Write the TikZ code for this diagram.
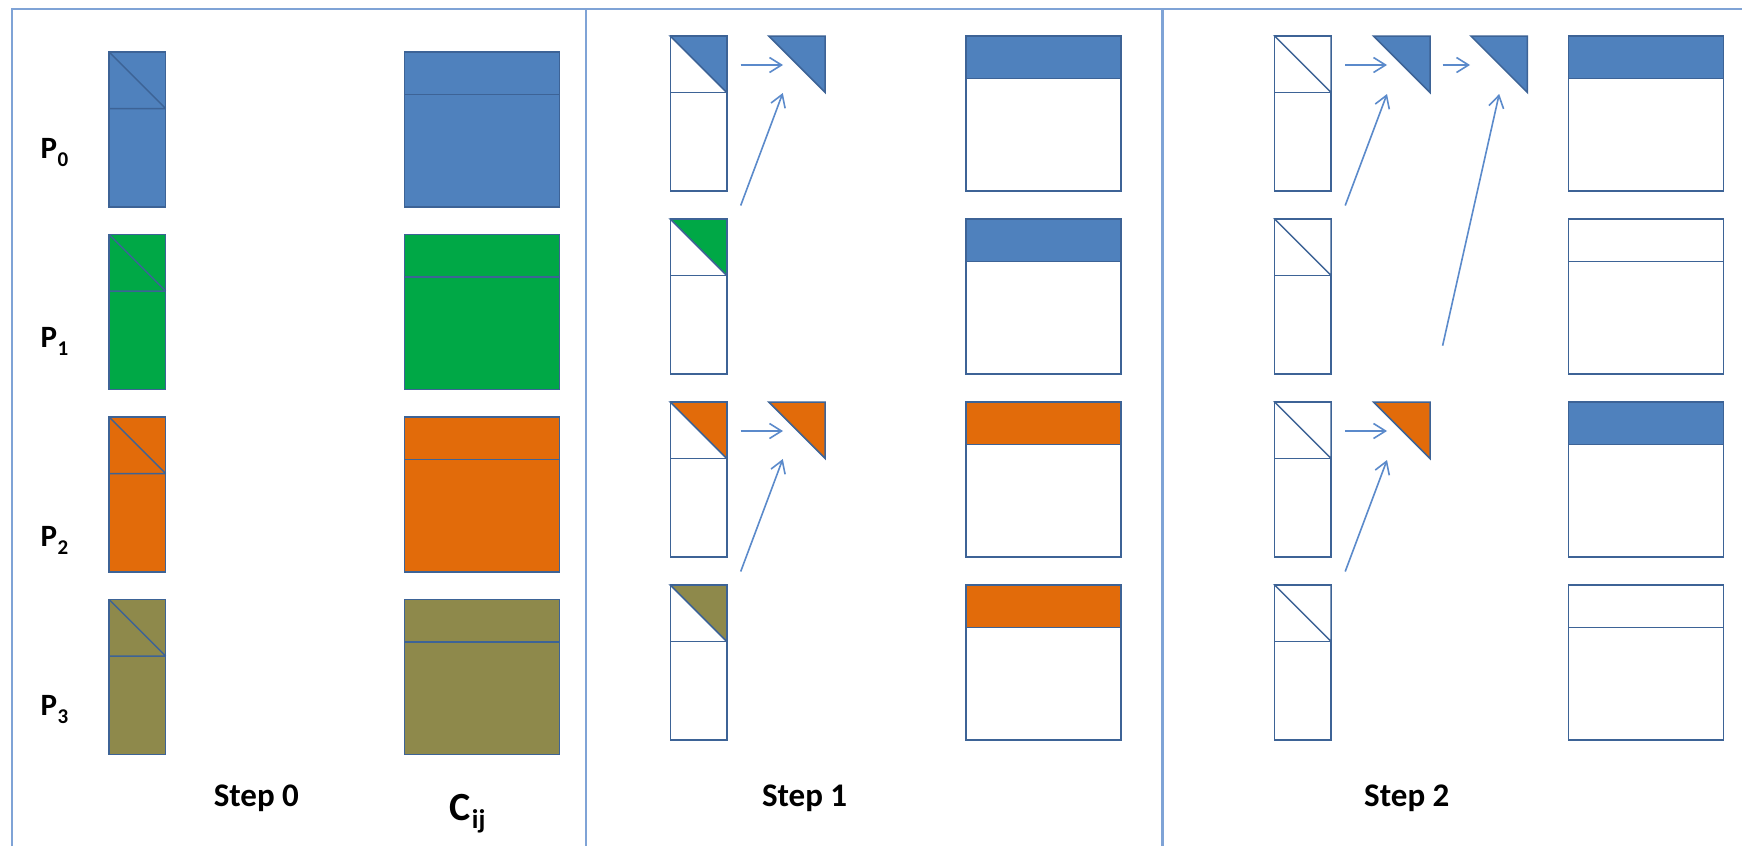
\documentclass[tikz,border=0pt]{standalone}
\usepackage{fontspec}
\setmainfont{Carlito}
\usetikzlibrary{arrows.meta}

\definecolor{accblue}{HTML}{4F81BD}
\definecolor{accgreen}{HTML}{00A846}
\definecolor{accorange}{HTML}{E26B0A}
\definecolor{accolive}{HTML}{8E894B}
\definecolor{edgeblue}{HTML}{3D6396}
\definecolor{rulecol}{HTML}{7FA3D6}
\definecolor{linkcol}{HTML}{5B8ACB}

% block geometry (1 unit = 1pt, y grows downwards)
\def\narrowW{56.5}
\def\blockH{155}
\def\wideW{155}
\def\bandH{42.5}

% local column with its diagonal block, fully coloured
\newcommand\fullcolumn[3]{%
  \begin{scope}[shift={(#1,#2)}]
    \filldraw[blk,fill=#3] (0,0) rectangle (\narrowW,\blockH);
    \draw[blk] (0,\narrowW) -- (\narrowW,\narrowW) (0,0) -- (\narrowW,\narrowW);
  \end{scope}}
% local column, only the upper triangle of the diagonal block coloured
\newcommand\trianglecolumn[3]{%
  \begin{scope}[shift={(#1,#2)}]
    \draw[blk] (0,0) rectangle (\narrowW,\blockH);
    \filldraw[blk,fill=#3] (0,0) -- (\narrowW,0) -- (\narrowW,\narrowW) -- cycle;
    \draw[blk] (0,\narrowW) -- (\narrowW,\narrowW);
  \end{scope}}
% received triangular block
\newcommand\recvtri[3]{%
  \filldraw[blk,fill=#3,shift={(#1,#2)}] (0,0) -- (\narrowW,0) -- (\narrowW,\narrowW) -- cycle;}
% result block C: top band colour #3, body colour #4
\newcommand\resultblock[4]{%
  \begin{scope}[shift={(#1,#2)}]
    \fill[#4] (0,0) rectangle (\wideW,\wideW);
    \fill[#3] (0,0) rectangle (\wideW,\bandH);
    \draw[blk] (0,0) rectangle (\wideW,\wideW);
    \draw[blk] (0,\bandH) -- (\wideW,\bandH);
  \end{scope}}

\begin{document}
\begin{tikzpicture}[x=1pt,y=-1pt,
  blk/.style={draw=edgeblue,line width=1.5pt,line join=miter},
  rule/.style={draw=rulecol,line width=2.2pt},
  link/.style={draw=linkcol,line width=1.6pt,
    -{Straight Barb[length=12pt,width=15pt,line width=1.6pt]}},
  plabel/.style={anchor=base west,inner sep=0pt,font=\fontsize{31}{31}\selectfont\bfseries},
  steplabel/.style={anchor=base,inner sep=0pt,font=\fontsize{33}{33}\selectfont\bfseries}]

\useasboundingbox (0,0) rectangle (1742,846);
\fill[white] (0,0) rectangle (1742,846);

% frame and step separators
\draw[rule] (11.7,846) -- (11.7,9) -- (1742,9);
\draw[rule] (585.8,9) -- (585.8,846);
\draw[rule] (1162.5,9) -- (1162.5,846);

% ---------- Step 0 ----------
\fullcolumn{109.1}{52}{accblue}
\fullcolumn{109.1}{234.5}{accgreen}
\fullcolumn{109.1}{417}{accorange}
\fullcolumn{109.1}{599.5}{accolive}
\resultblock{404.5}{52}{accblue}{accblue}
\resultblock{404.5}{234.5}{accgreen}{accgreen}
\resultblock{404.5}{417}{accorange}{accorange}
\resultblock{404.5}{599.5}{accolive}{accolive}

\node[plabel] (p0) at (40.5,158) {P\kern0.5pt\raisebox{-8.5pt}{\fontsize{21}{21}\selectfont 0}};
\node[plabel] (p1) at (40.5,347) {P\kern0.5pt\raisebox{-8.5pt}{\fontsize{21}{21}\selectfont 1}};
\node[plabel] (p2) at (40.5,546) {P\kern0.5pt\raisebox{-8.5pt}{\fontsize{21}{21}\selectfont 2}};
\node[plabel] (p3) at (40.5,715) {P\kern0.5pt\raisebox{-8.5pt}{\fontsize{21}{21}\selectfont 3}};

\node[steplabel] (s0) at (256.4,806) {Step 0};
\node[anchor=base west,inner sep=0pt,font=\fontsize{40}{40}\selectfont\bfseries] (cij)
  at (449.6,820) {C\kern1pt\raisebox{-8pt}{\fontsize{27}{27}\selectfont ij}};

% ---------- Step 1 ----------
\trianglecolumn{670.3}{36}{accblue}
\trianglecolumn{670.3}{219}{accgreen}
\trianglecolumn{670.3}{402}{accorange}
\trianglecolumn{670.3}{585}{accolive}
\recvtri{768.7}{36}{accblue}
\recvtri{768.7}{402}{accorange}
\resultblock{965.8}{36}{accblue}{white}
\resultblock{965.8}{219}{accblue}{white}
\resultblock{965.8}{402}{accorange}{white}
\resultblock{965.8}{585}{accorange}{white}

\coordinate (a1s) at (740.7,65);   \coordinate (a1e) at (783,65);
\coordinate (b1s) at (740.7,205.5); \coordinate (b1e) at (782.8,93);
\coordinate (a2s) at (740.7,431);  \coordinate (a2e) at (783,431);
\coordinate (b2s) at (740.7,571.5); \coordinate (b2e) at (782.8,459);
\draw[link] (a1s) -- (a1e);
\draw[link] (b1s) -- (b1e);
\draw[link] (a2s) -- (a2e);
\draw[link] (b2s) -- (b2e);

\node[steplabel] (s1) at (804.6,806) {Step 1};

% ---------- Step 2 ----------
\trianglecolumn{1274.6}{36}{white}
\trianglecolumn{1274.6}{219}{white}
\trianglecolumn{1274.6}{402}{white}
\trianglecolumn{1274.6}{585}{white}
\recvtri{1373.5}{36}{accblue}
\recvtri{1470.9}{36}{accblue}
\recvtri{1373.5}{402}{accorange}
\resultblock{1568.5}{36}{accblue}{white}
\resultblock{1568.5}{219}{white}{white}
\resultblock{1568.5}{402}{accblue}{white}
\resultblock{1568.5}{585}{white}{white}

\coordinate (c1s) at (1345.2,65);   \coordinate (c1e) at (1387,65);
\coordinate (c2s) at (1442.6,65);   \coordinate (c2e) at (1470,65);
\coordinate (d1s) at (1345.2,205.5); \coordinate (d1e) at (1387,94);
\coordinate (d2s) at (1442.6,345.7); \coordinate (d2e) at (1499.2,94);
\coordinate (c3s) at (1345.2,431);  \coordinate (c3e) at (1387,431);
\coordinate (d3s) at (1345.2,571.5); \coordinate (d3e) at (1387,460);
\draw[link] (c1s) -- (c1e);
\draw[link] (c2s) -- (c2e);
\draw[link] (d1s) -- (d1e);
\draw[link] (d2s) -- (d2e);
\draw[link] (c3s) -- (c3e);
\draw[link] (d3s) -- (d3e);

\node[steplabel] (s2) at (1406.8,806) {Step 2};
\end{tikzpicture}
\end{document}
